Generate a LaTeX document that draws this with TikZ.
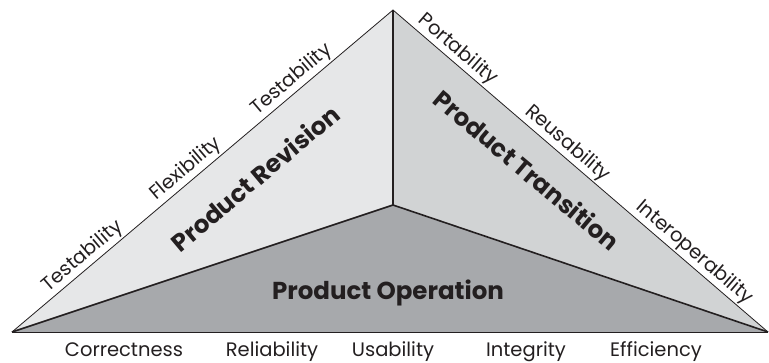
\documentclass[tikz,border=0pt]{standalone}
\usepackage{fontspec}
\setmainfont{Poppins}
\definecolor{revgray}{HTML}{E6E7E8}
\definecolor{trangray}{HTML}{D1D3D4}
\definecolor{opgray}{HTML}{A7A9AC}
\definecolor{inkgray}{HTML}{231F20}
\usetikzlibrary{calc}

\begin{document}
\begin{tikzpicture}[x=1pt, y=-1pt,
  factor/.style={font=\fontsize{19.5}{19.5}\selectfont, text=inkgray, inner sep=2pt},
  edgefactor/.style={factor, sloped, above},
  basefactor/.style={factor, anchor=base, inner sep=0pt},
  facelabel/.style={font=\fontsize{24.5}{24.5}\selectfont\bfseries, text=inkgray},
  edge/.style={draw=inkgray, line width=0.8pt},
  ridge/.style={draw=inkgray, line width=1.6pt},
]
\useasboundingbox (0,0) rectangle (769,362);

% Corners of the pyramid
\coordinate (left) at (12,332);
\coordinate (apex) at (393,10);
\coordinate (right) at (768,332);
\coordinate (mid) at (393,205);

% Faces
\fill[revgray] (left) -- (apex) -- (mid) -- cycle;
\fill[trangray] (apex) -- (right) -- (mid) -- cycle;
\fill[opgray] (left) -- (mid) -- (right) -- cycle;

% Edges
\draw[edge] (left) -- (apex) -- (right);
\draw[edge] (left) -- (right);
\draw[ridge] (apex) -- (mid);
\draw[ridge] (left) -- (mid) -- (right);

% Factors along the left edge
\path (left) -- (apex)
  node[edgefactor, pos=0.206] (test1) {Testability}
  node[edgefactor, pos=0.477] (flex) {Flexibility}
  node[edgefactor, pos=0.755] (test2) {Testability};

% Factors along the right edge
\path (apex) -- (right)
  node[edgefactor, pos=0.152] (port) {Portability}
  node[edgefactor, pos=0.444] (reuse) {Reusability}
  node[edgefactor, pos=0.782] (inter) {Interoperability};

% Factors under the base
\node[basefactor] (correct) at (124,356) {Correctness};
\node[basefactor] (reliab) at (272,356) {Reliability};
\node[basefactor] (usab) at (393,356) {Usability};
\node[basefactor] (integ) at (526,356) {Integrity};
\node[basefactor] (effic) at (656,356) {Efficiency};

% Face labels
\node[facelabel, rotate=40] (revision) at (255,178) {Product Revision};
\node[facelabel, rotate=-40] (transition) at (527,170) {Product Transition};
\node[facelabel] (operation) at (388,293) {Product Operation};
\end{tikzpicture}
\end{document}
